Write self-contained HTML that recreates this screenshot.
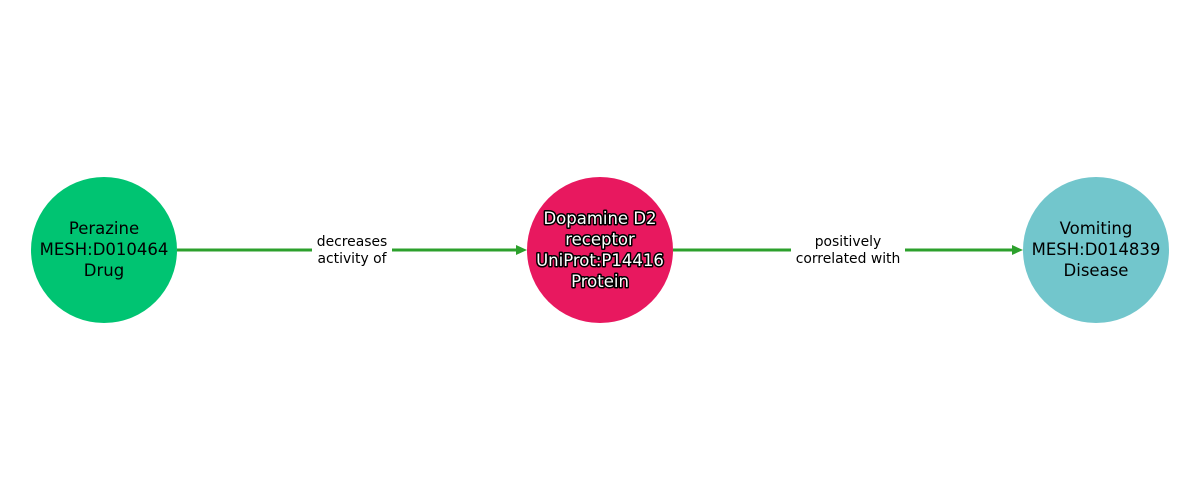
<!DOCTYPE html>
<html><head><meta charset="utf-8"><style>
html,body{margin:0;padding:0;background:#fff;width:1200px;height:500px;overflow:hidden}
svg text{font-family:"DejaVu Sans","Liberation Sans",sans-serif}
</style></head><body>
<svg width="1200" height="500" viewBox="0 0 1200 500" xmlns="http://www.w3.org/2000/svg">
<line x1="177" y1="250" x2="520" y2="250" stroke="#2ca02c" stroke-width="3"/>
<polygon points="527,250 516,245 516,255" fill="#2ca02c"/>
<line x1="673" y1="250" x2="1016" y2="250" stroke="#2ca02c" stroke-width="3"/>
<polygon points="1023,250 1012,245 1012,255" fill="#2ca02c"/>
<rect x="312" y="232" width="80" height="36" fill="#fff"/>
<rect x="791" y="232" width="114" height="36" fill="#fff"/>
<g font-size="13.9" text-anchor="middle" fill="#000">
<text x="352" y="246">decreases</text>
<text x="352" y="263">activity of</text>
<text x="848" y="246">positively</text>
<text x="848" y="263">correlated with</text>
</g>
<circle cx="104" cy="250" r="73" fill="#00c472"/>
<circle cx="600" cy="250" r="73" fill="#e8185f"/>
<circle cx="1096" cy="250" r="73" fill="#72c6cc"/>
<g font-size="16.5" text-anchor="middle" fill="#000">
<text x="104" y="234">Perazine</text>
<text x="104" y="255">MESH:D010464</text>
<text x="104" y="276">Drug</text>
<text x="1096" y="234">Vomiting</text>
<text x="1096" y="255">MESH:D014839</text>
<text x="1096" y="276">Disease</text>
</g>
<g font-size="16.5" text-anchor="middle" fill="#fff" stroke="#000" stroke-width="3" paint-order="stroke" stroke-linejoin="round">
<text x="600" y="224">Dopamine D2</text>
<text x="600" y="245">receptor</text>
<text x="600" y="266">UniProt:P14416</text>
<text x="600" y="287">Protein</text>
</g>
</svg>
</body></html>
